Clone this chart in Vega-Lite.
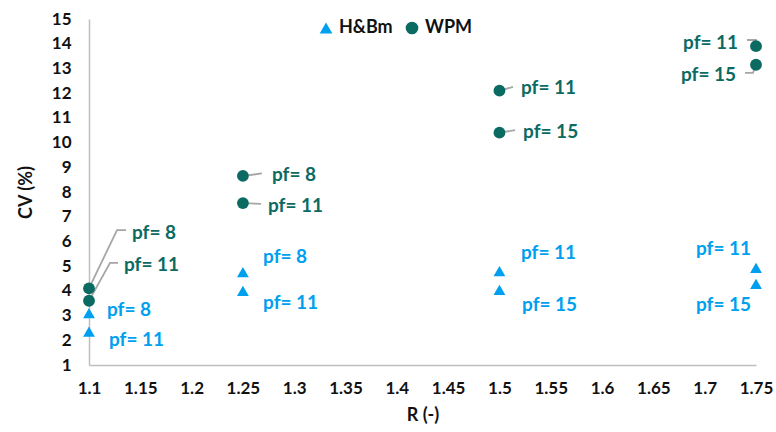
{
  "$schema": "https://vega.github.io/schema/vega-lite/v6.json",
  "width": 667,
  "height": 346,
  "autosize": {"type": "none"},
  "padding": {"left": 89, "top": 19, "right": 20, "bottom": 67},
  "background": "white",
  "config": {
    "view": {"stroke": null},
    "font": "Lato",
    "axis": {"labelFont": "Lato", "titleFont": "Lato", "labelFontWeight": "bold", "titleFontWeight": "bold", "labelColor": "#111111", "titleColor": "#111111"}
  },
  "datasets": {
    "points": [
      {"R": 1.1, "CV": 3.1, "method": "H&Bm", "pf": 8},
      {"R": 1.1, "CV": 2.35, "method": "H&Bm", "pf": 11},
      {"R": 1.25, "CV": 4.76, "method": "H&Bm", "pf": 8},
      {"R": 1.25, "CV": 4.0, "method": "H&Bm", "pf": 11},
      {"R": 1.5, "CV": 4.8, "method": "H&Bm", "pf": 11},
      {"R": 1.5, "CV": 4.04, "method": "H&Bm", "pf": 15},
      {"R": 1.75, "CV": 4.93, "method": "H&Bm", "pf": 11},
      {"R": 1.75, "CV": 4.28, "method": "H&Bm", "pf": 15},
      {"R": 1.1, "CV": 4.1, "method": "WPM", "pf": 8},
      {"R": 1.1, "CV": 3.6, "method": "WPM", "pf": 11},
      {"R": 1.25, "CV": 8.65, "method": "WPM", "pf": 8},
      {"R": 1.25, "CV": 7.55, "method": "WPM", "pf": 11},
      {"R": 1.5, "CV": 12.1, "method": "WPM", "pf": 11},
      {"R": 1.5, "CV": 10.4, "method": "WPM", "pf": 15},
      {"R": 1.75, "CV": 13.9, "method": "WPM", "pf": 11},
      {"R": 1.75, "CV": 13.15, "method": "WPM", "pf": 15}
    ],
    "labels": [
      {"text": "pf= 8", "lx": 1.1175, "ly": 3.23, "method": "H&Bm"},
      {"text": "pf= 11", "lx": 1.1195, "ly": 2.01, "method": "H&Bm"},
      {"text": "pf= 8", "lx": 1.2696, "ly": 5.37, "method": "H&Bm"},
      {"text": "pf= 11", "lx": 1.2696, "ly": 3.51, "method": "H&Bm"},
      {"text": "pf= 11", "lx": 1.521, "ly": 5.53, "method": "H&Bm"},
      {"text": "pf= 15", "lx": 1.522, "ly": 3.43, "method": "H&Bm"},
      {"text": "pf= 11", "lx": 1.6915, "ly": 5.69, "method": "H&Bm"},
      {"text": "pf= 15", "lx": 1.6915, "ly": 3.43, "method": "H&Bm"},
      {"text": "pf= 8", "lx": 1.1419, "ly": 6.34, "method": "WPM"},
      {"text": "pf= 11", "lx": 1.1341, "ly": 5.05, "method": "WPM"},
      {"text": "pf= 8", "lx": 1.2783, "ly": 8.69, "method": "WPM"},
      {"text": "pf= 11", "lx": 1.2744, "ly": 7.43, "method": "WPM"},
      {"text": "pf= 11", "lx": 1.521, "ly": 12.21, "method": "WPM"},
      {"text": "pf= 15", "lx": 1.523, "ly": 10.43, "method": "WPM"},
      {"text": "pf= 11", "lx": 1.6789, "ly": 14.03, "method": "WPM"},
      {"text": "pf= 15", "lx": 1.6769, "ly": 12.74, "method": "WPM"}
    ],
    "leaders": [
      {"id": "A", "o": 1, "x": 1.1, "y": 4.1},
      {"id": "A", "o": 2, "x": 1.1273, "y": 6.46},
      {"id": "A", "o": 3, "x": 1.1361, "y": 6.46},
      {"id": "B", "o": 1, "x": 1.1, "y": 3.6},
      {"id": "B", "o": 2, "x": 1.1205, "y": 5.13},
      {"id": "B", "o": 3, "x": 1.1283, "y": 5.13},
      {"id": "C", "o": 1, "x": 1.25, "y": 8.65},
      {"id": "C", "o": 2, "x": 1.2686, "y": 8.75},
      {"id": "D", "o": 1, "x": 1.25, "y": 7.55},
      {"id": "D", "o": 2, "x": 1.2676, "y": 7.52},
      {"id": "E", "o": 1, "x": 1.5, "y": 12.1},
      {"id": "E", "o": 2, "x": 1.5132, "y": 12.25},
      {"id": "F", "o": 1, "x": 1.5, "y": 10.4},
      {"id": "F", "o": 2, "x": 1.5152, "y": 10.5},
      {"id": "G", "o": 1, "x": 1.7412, "y": 14.15},
      {"id": "G", "o": 2, "x": 1.75, "y": 14.15},
      {"id": "G", "o": 3, "x": 1.75, "y": 13.9},
      {"id": "H", "o": 1, "x": 1.7393, "y": 12.82},
      {"id": "H", "o": 2, "x": 1.7471, "y": 12.82},
      {"id": "H", "o": 3, "x": 1.75, "y": 13.15}
    ]
  },
  "layer": [
    {
      "data": {"name": "leaders"},
      "mark": {"type": "line", "color": "#A6A6A6", "strokeWidth": 1.8, "clip": false},
      "encoding": {
        "x": {"field": "x", "type": "quantitative", "scale": {"domain": [1.1, 1.75], "nice": false, "zero": false},
          "axis": {"values": [1.1, 1.15, 1.2, 1.25, 1.3, 1.35, 1.4, 1.45, 1.5, 1.55, 1.6, 1.65, 1.7, 1.75], "tickCount": 30, "format": ".2~f", "title": "R (-)", "grid": false, "ticks": false, "domainColor": "#BFBFBF", "domainWidth": 1.5, "labelFontSize": 17, "labelPadding": 15, "titleFontSize": 18, "titlePadding": 10, "labelFlush": false, "labelOverlap": false}},
        "y": {"field": "y", "type": "quantitative", "scale": {"domain": [1, 15], "nice": false, "zero": false},
          "axis": {"values": [1, 2, 3, 4, 5, 6, 7, 8, 9, 10, 11, 12, 13, 14, 15], "tickCount": 30, "format": "d", "title": "CV (%)", "grid": false, "ticks": false, "domainColor": "#BFBFBF", "domainWidth": 1.5, "labelFontSize": 17, "labelPadding": 18, "titleFontSize": 18, "titlePadding": 16, "labelFlush": false, "labelOverlap": false}},
        "detail": {"field": "id"},
        "order": {"field": "o"}
      }
    },
    {
      "data": {"name": "points"},
      "mark": {"type": "point", "filled": true, "opacity": 1, "clip": false},
      "encoding": {
        "x": {"field": "R", "type": "quantitative"},
        "y": {"field": "CV", "type": "quantitative"},
        "color": {"field": "method", "type": "nominal", "scale": {"domain": ["H&Bm", "WPM"], "range": ["#00A0F0", "#0B6A62"]},
          "legend": {"title": null, "orient": "none", "legendX": 228, "legendY": 0, "direction": "horizontal", "labelFontSize": 18, "labelFontWeight": "bold", "labelColor": "#111111", "labelFont": "Lato", "symbolSize": 160, "columnPadding": 10, "labelOffset": 4}},
        "shape": {"field": "method", "type": "nominal", "scale": {"domain": ["H&Bm", "WPM"], "range": ["triangle-up", "circle"]}},
        "size": {"value": 140}
      }
    },
    {
      "data": {"name": "labels"},
      "mark": {"type": "text", "align": "left", "baseline": "middle", "fontSize": 19, "fontWeight": "bold", "font": "Lato", "clip": false},
      "encoding": {
        "x": {"field": "lx", "type": "quantitative"},
        "y": {"field": "ly", "type": "quantitative"},
        "text": {"field": "text"},
        "color": {"field": "method", "type": "nominal", "legend": null}
      }
    }
  ]
}
